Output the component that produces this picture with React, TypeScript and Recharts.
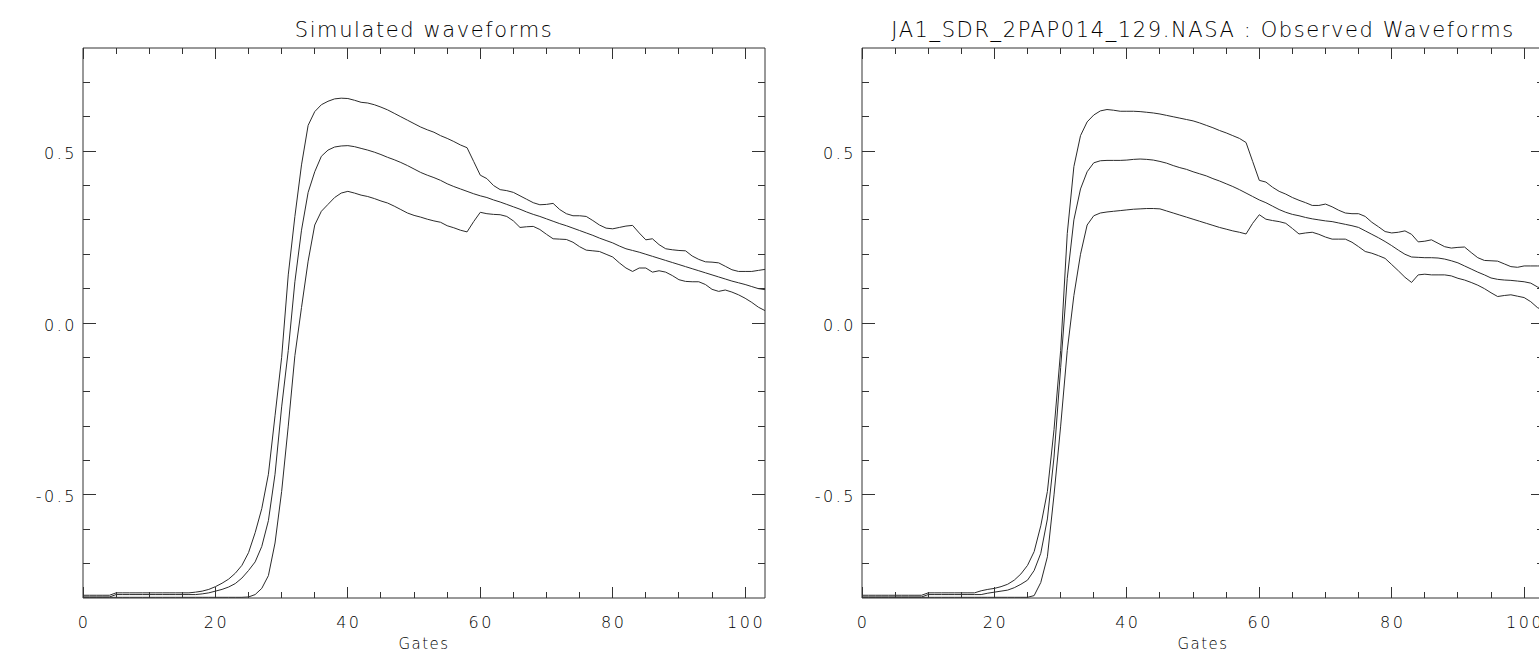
import React from "react";
import { LineChart, Line, XAxis, YAxis } from "recharts";

// gate index 0..103
const GATES = Array.from({ length: 104 }, (_, i) => i);

const X_TICKS = [0, 5, 10, 15, 20, 25, 30, 35, 40, 45, 50, 55, 60, 65, 70, 75, 80, 85, 90, 95, 100];
const Y_TICKS = [-0.7, -0.6, -0.5, -0.4, -0.3, -0.2, -0.1, 0, 0.1, 0.2, 0.3, 0.4, 0.5, 0.6, 0.7];
const X_MAJOR = [0, 20, 40, 60, 80, 100];
const Y_MAJOR = [-0.5, 0, 0.5];

const SIM_UPPER = [
  -0.792, -0.792, -0.792, -0.792, -0.792, -0.785, -0.785, -0.785, -0.785, -0.785,
  -0.785, -0.785, -0.785, -0.785, -0.785, -0.785, -0.785, -0.783, -0.78, -0.775,
  -0.767, -0.757, -0.745, -0.728, -0.705, -0.668, -0.61, -0.54, -0.44, -0.27,
  -0.1, 0.14, 0.31, 0.46, 0.575, 0.615, 0.635, 0.645, 0.652, 0.654,
  0.653, 0.648, 0.642, 0.64, 0.635, 0.628, 0.62, 0.61, 0.6, 0.59,
  0.58, 0.57, 0.562, 0.555, 0.545, 0.537, 0.528, 0.518, 0.51, 0.47,
  0.43, 0.42, 0.4, 0.388, 0.385, 0.38, 0.37, 0.36, 0.35, 0.344,
  0.345, 0.348, 0.33, 0.318, 0.312, 0.312, 0.31, 0.298, 0.285, 0.276,
  0.274, 0.278, 0.282, 0.284, 0.262, 0.242, 0.245, 0.228, 0.216, 0.213,
  0.211, 0.21, 0.195, 0.185, 0.178, 0.177, 0.175, 0.165, 0.155, 0.15,
  0.15, 0.15, 0.153, 0.156,
];

const SIM_MID = [
  -0.797, -0.797, -0.797, -0.797, -0.797, -0.79, -0.79, -0.79, -0.79, -0.79,
  -0.79, -0.79, -0.79, -0.79, -0.79, -0.79, -0.79, -0.79, -0.788, -0.785,
  -0.78, -0.775, -0.768, -0.758, -0.742, -0.72, -0.695, -0.65, -0.575, -0.44,
  -0.244, -0.08, 0.12, 0.27, 0.38, 0.44, 0.485, 0.503, 0.512, 0.515,
  0.516, 0.513, 0.508, 0.503, 0.497, 0.49, 0.482, 0.475, 0.467, 0.458,
  0.448, 0.438, 0.43, 0.423, 0.415, 0.405, 0.397, 0.39, 0.383, 0.376,
  0.37, 0.365, 0.358, 0.352, 0.345, 0.338, 0.331, 0.323, 0.316, 0.31,
  0.303, 0.296, 0.289, 0.283, 0.276, 0.269, 0.262, 0.255, 0.247, 0.24,
  0.233, 0.224, 0.216, 0.211, 0.206, 0.2, 0.194, 0.188, 0.182, 0.176,
  0.17, 0.164, 0.158, 0.152, 0.146, 0.14, 0.134, 0.128, 0.122, 0.117,
  0.112, 0.106, 0.1, 0.097,
];

const SIM_LOWER = [
  -0.798, -0.798, -0.798, -0.798, -0.798, -0.798, -0.798, -0.798, -0.798, -0.798,
  -0.798, -0.798, -0.798, -0.798, -0.798, -0.798, -0.798, -0.798, -0.798, -0.798,
  -0.798, -0.798, -0.798, -0.798, -0.798, -0.797, -0.79, -0.772, -0.735, -0.64,
  -0.49, -0.3, -0.095, 0.045, 0.18, 0.285, 0.325, 0.345, 0.365, 0.378,
  0.383, 0.378, 0.372, 0.368, 0.362, 0.355, 0.349, 0.34, 0.33, 0.32,
  0.313, 0.308, 0.302, 0.297, 0.293, 0.283, 0.277, 0.27, 0.265, 0.295,
  0.322, 0.318, 0.316, 0.315, 0.31, 0.297, 0.278, 0.28, 0.281, 0.272,
  0.258, 0.245, 0.244, 0.243, 0.235, 0.222, 0.212, 0.21, 0.208, 0.2,
  0.192, 0.175, 0.16, 0.15, 0.16, 0.16, 0.148, 0.152, 0.148, 0.138,
  0.126, 0.121, 0.12, 0.12, 0.112, 0.098, 0.092, 0.096, 0.09, 0.082,
  0.072, 0.06, 0.046, 0.036,
];

const OBS_UPPER = [
  -0.792, -0.792, -0.792, -0.792, -0.792, -0.792, -0.792, -0.792, -0.792, -0.792,
  -0.785, -0.785, -0.785, -0.785, -0.785, -0.785, -0.785, -0.785, -0.779, -0.775,
  -0.772, -0.767, -0.76, -0.748, -0.73, -0.705, -0.665, -0.59, -0.49, -0.31,
  -0.08, 0.26, 0.455, 0.545, 0.585, 0.605, 0.617, 0.621, 0.619, 0.616,
  0.616, 0.616, 0.615, 0.613, 0.611, 0.608, 0.604, 0.6, 0.596, 0.592,
  0.588, 0.582, 0.575, 0.568, 0.56, 0.553, 0.545, 0.537, 0.525, 0.47,
  0.415, 0.41, 0.395, 0.383, 0.375, 0.365, 0.357, 0.35, 0.342, 0.342,
  0.346, 0.338, 0.328, 0.32, 0.318, 0.318, 0.31, 0.293, 0.28, 0.266,
  0.262, 0.264, 0.268, 0.258, 0.236, 0.238, 0.242, 0.232, 0.222, 0.218,
  0.22, 0.221, 0.205, 0.19, 0.182, 0.181, 0.18, 0.172, 0.164, 0.162,
  0.166, 0.166, 0.166, 0.166,
];

const OBS_MID = [
  -0.797, -0.797, -0.797, -0.797, -0.797, -0.797, -0.797, -0.797, -0.797, -0.797,
  -0.79, -0.79, -0.79, -0.79, -0.79, -0.79, -0.79, -0.79, -0.79, -0.786,
  -0.783, -0.78, -0.777, -0.77, -0.76, -0.748, -0.72, -0.67, -0.57, -0.39,
  -0.13, 0.13, 0.3, 0.39, 0.44, 0.466, 0.472, 0.473, 0.473, 0.473,
  0.474, 0.476, 0.477, 0.476, 0.474, 0.47, 0.465, 0.458, 0.452, 0.447,
  0.44, 0.434, 0.428, 0.42, 0.413, 0.405, 0.397, 0.388, 0.378, 0.368,
  0.358, 0.35, 0.34, 0.33, 0.322, 0.316, 0.312, 0.307, 0.303, 0.3,
  0.297, 0.295, 0.291, 0.287, 0.283, 0.278, 0.268, 0.258, 0.248, 0.237,
  0.225, 0.212, 0.2, 0.192, 0.191, 0.19, 0.19, 0.189, 0.186, 0.181,
  0.175, 0.166, 0.157, 0.148, 0.14, 0.131, 0.127, 0.125, 0.124, 0.122,
  0.12, 0.116, 0.105, 0.097,
];

const OBS_LOWER = [
  -0.798, -0.798, -0.798, -0.798, -0.798, -0.798, -0.798, -0.798, -0.798, -0.798,
  -0.798, -0.798, -0.798, -0.798, -0.798, -0.798, -0.798, -0.798, -0.798, -0.798,
  -0.798, -0.798, -0.798, -0.798, -0.798, -0.798, -0.793, -0.755, -0.68, -0.5,
  -0.3, -0.08, 0.08, 0.2, 0.285, 0.312, 0.32, 0.323, 0.325, 0.327,
  0.329, 0.331, 0.332, 0.333, 0.333, 0.332, 0.326, 0.32, 0.314, 0.308,
  0.302, 0.296, 0.29, 0.284, 0.278, 0.273, 0.268, 0.264, 0.259, 0.29,
  0.315, 0.302, 0.298, 0.295, 0.29, 0.275, 0.259, 0.262, 0.264, 0.258,
  0.25, 0.244, 0.244, 0.244, 0.235, 0.222, 0.208, 0.203, 0.196, 0.188,
  0.17, 0.152, 0.133, 0.118, 0.14, 0.142, 0.14, 0.14, 0.14, 0.137,
  0.13, 0.125, 0.118, 0.11, 0.1, 0.088, 0.077, 0.08, 0.082, 0.078,
  0.074, 0.062, 0.045, 0.035,
];

const AXIS = "#333";
const INK = "#2b2b2b";
const TEXT = "#000";
const FONT = "'DejaVu Sans ExtraLight', 'DejaVu Sans', sans-serif";
const WEIGHT = 200;

const buildRows = (upper: number[], mid: number[], lower: number[]) =>
  GATES.map((g, i) => ({ gate: g, upper: upper[i], mid: mid[i], lower: lower[i] }));

const isMajorY = (v: number) => Y_MAJOR.some((m) => Math.abs(m - v) < 1e-6);

function XTick(props: any) {
  const { x, y, payload, side } = props;
  const major = X_MAJOR.includes(payload.value);
  const len = major ? 11 : 6;
  const dir = side === "bottom" ? -1 : 1;
  return (
    <g>
      <line x1={x} y1={y} x2={x} y2={y + dir * len} stroke={AXIS} shapeRendering="crispEdges" />
      {side === "bottom" && major && (
        <text
          x={x + 1}
          y={y + 30}
          textAnchor="middle"
          fontFamily={FONT}
          fontWeight={WEIGHT}
          fontSize={16}
          letterSpacing={2.5}
          fill={TEXT}
        >
          {payload.value}
        </text>
      )}
    </g>
  );
}

function YTick(props: any) {
  const { x, y, payload, side } = props;
  const major = isMajorY(payload.value);
  const len = major ? 13 : 7;
  const dir = side === "left" ? 1 : -1;
  return (
    <g>
      <line x1={x} y1={y} x2={x + dir * len} y2={y} stroke={AXIS} shapeRendering="crispEdges" />
      {side === "left" && major && (
        <text
          x={x - 6}
          y={y + 7.5}
          textAnchor="end"
          fontFamily={FONT}
          fontWeight={WEIGHT}
          fontSize={16}
          letterSpacing={2.5}
          fill={TEXT}
        >
          {payload.value.toFixed(1)}
        </text>
      )}
    </g>
  );
}

function Panel({ left, title, rows }: { left: number; title: string; rows: any[] }) {
  return (
    <div style={{ position: "absolute", left, top: 0, width: 800, height: 655 }}>
      <LineChart width={800} height={655} data={rows} margin={{ top: 47, right: 34, bottom: 0, left: 23 }}>
        <XAxis
          xAxisId="b"
          dataKey="gate"
          type="number"
          domain={[0, 103]}
          allowDataOverflow
          ticks={X_TICKS}
          interval={0}
          tickSize={0}
          tickMargin={0}
          tickLine={false}
          axisLine={{ stroke: AXIS }}
          tick={(p: any) => <XTick {...p} side="bottom" />}
          height={57}
        />
        <XAxis
          xAxisId="t"
          orientation="top"
          dataKey="gate"
          type="number"
          domain={[0, 103]}
          allowDataOverflow
          ticks={X_TICKS}
          interval={0}
          tickSize={0}
          tickMargin={0}
          tickLine={false}
          axisLine={{ stroke: AXIS }}
          tick={(p: any) => <XTick {...p} side="top" />}
          height={1}
        />
        <YAxis
          yAxisId="l"
          type="number"
          domain={[-0.8, 0.8]}
          allowDataOverflow
          ticks={Y_TICKS}
          interval={0}
          tickSize={0}
          tickMargin={0}
          tickLine={false}
          axisLine={{ stroke: AXIS }}
          tick={(p: any) => <YTick {...p} side="left" />}
          width={60}
        />
        <YAxis
          yAxisId="r"
          orientation="right"
          type="number"
          domain={[-0.8, 0.8]}
          allowDataOverflow
          ticks={Y_TICKS}
          interval={0}
          tickSize={0}
          tickMargin={0}
          tickLine={false}
          axisLine={{ stroke: AXIS }}
          tick={(p: any) => <YTick {...p} side="right" />}
          width={1}
        />
        {["upper", "mid", "lower"].map((k) => (
          <Line
            key={k}
            xAxisId="b"
            yAxisId="l"
            dataKey={k}
            type="linear"
            stroke={INK}
            strokeWidth={1}
            dot={false}
            activeDot={false}
            isAnimationActive={false}
          />
        ))}
      </LineChart>
      <svg width={800} height={655} style={{ position: "absolute", left: 0, top: 0, pointerEvents: "none" }}>
        <text
          x={424}
          y={37}
          textAnchor="middle"
          fontFamily={FONT}
          fontWeight={WEIGHT}
          fontSize={21}
          letterSpacing={1.6}
          fill={TEXT}
        >
          {title}
        </text>
        <text
          x={424}
          y={649}
          textAnchor="middle"
          fontFamily={FONT}
          fontWeight={WEIGHT}
          fontSize={15}
          letterSpacing={1.5}
          fill={TEXT}
        >
          Gates
        </text>
      </svg>
    </div>
  );
}

export default function App() {
  return (
    <div style={{ position: "absolute", left: 0, top: 0, width: 1539, height: 655, overflow: "hidden", background: "#fff" }}>
      <Panel left={0} title="Simulated waveforms" rows={buildRows(SIM_UPPER, SIM_MID, SIM_LOWER)} />
      <Panel
        left={779}
        title="JA1_SDR_2PAP014_129.NASA : Observed Waveforms"
        rows={buildRows(OBS_UPPER, OBS_MID, OBS_LOWER)}
      />
    </div>
  );
}
